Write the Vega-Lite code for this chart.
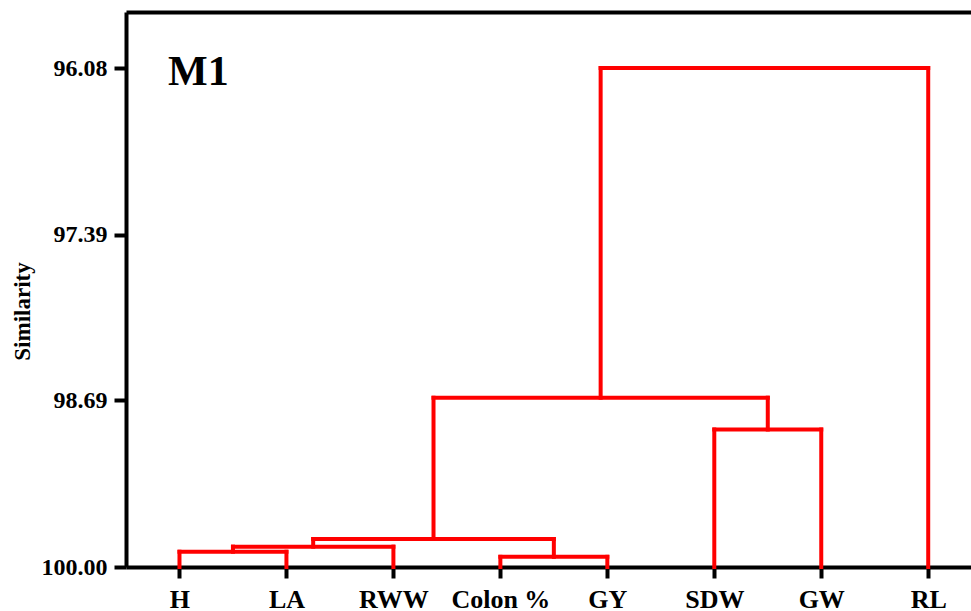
{
  "$schema": "https://vega.github.io/schema/vega-lite/v6.json",
  "autosize": {"type": "none"},
  "padding": {"left": 126, "top": 12, "right": 0, "bottom": 44},
  "width": 845,
  "height": 555,
  "background": "white",
  "config": {
    "view": {"stroke": null},
    "font": "Liberation Serif",
    "axis": {"grid": false, "domainColor": "black", "domainWidth": 4, "tickColor": "black", "tickWidth": 4, "labelColor": "black", "titleColor": "black", "labelFont": "Liberation Serif", "titleFont": "Liberation Serif", "labelFontWeight": "bold", "titleFontWeight": "bold"}
  },
  "datasets": {
    "segments": [
      {"x": 0, "x2": 0, "y": 100, "y2": 99.88},
      {"x": 1, "x2": 1, "y": 100, "y2": 99.88},
      {"x": 0, "x2": 1, "y": 99.88, "y2": 99.88},
      {"x": 0.5, "x2": 0.5, "y": 99.88, "y2": 99.84},
      {"x": 2, "x2": 2, "y": 100, "y2": 99.84},
      {"x": 0.5, "x2": 2, "y": 99.84, "y2": 99.84},
      {"x": 3, "x2": 3, "y": 100, "y2": 99.92},
      {"x": 4, "x2": 4, "y": 100, "y2": 99.92},
      {"x": 3, "x2": 4, "y": 99.92, "y2": 99.92},
      {"x": 1.25, "x2": 1.25, "y": 99.84, "y2": 99.78},
      {"x": 3.5, "x2": 3.5, "y": 99.92, "y2": 99.78},
      {"x": 1.25, "x2": 3.5, "y": 99.78, "y2": 99.78},
      {"x": 5, "x2": 5, "y": 100, "y2": 98.92},
      {"x": 6, "x2": 6, "y": 100, "y2": 98.92},
      {"x": 5, "x2": 6, "y": 98.92, "y2": 98.92},
      {"x": 2.375, "x2": 2.375, "y": 99.78, "y2": 98.67},
      {"x": 5.5, "x2": 5.5, "y": 98.92, "y2": 98.67},
      {"x": 2.375, "x2": 5.5, "y": 98.67, "y2": 98.67},
      {"x": 3.9375, "x2": 3.9375, "y": 98.67, "y2": 96.08},
      {"x": 7, "x2": 7, "y": 100, "y2": 96.08},
      {"x": 3.9375, "x2": 7, "y": 96.08, "y2": 96.08}
    ],
    "panel": [{"label": "M1", "x": -0.107, "y": 96.21}]
  },
  "layer": [
    {
      "data": {"name": "segments"},
      "mark": {"type": "rule", "color": "#ff0000", "strokeWidth": 4, "strokeCap": "square"},
      "encoding": {
        "x": {
          "field": "x", "type": "quantitative",
          "scale": {"domain": [-0.5, 7.4], "nice": false, "zero": false},
          "axis": {
            "orient": "bottom", "title": null, "values": [0, 1, 2, 3, 4, 5, 6, 7],
            "labelExpr": "['H','LA','RWW','Colon %','GY','SDW','GW','RL'][datum.value]",
            "labelFontSize": 26, "tickSize": 11, "labelPadding": 8, "labelFlush": false
          }
        },
        "x2": {"field": "x2"},
        "y": {
          "field": "y", "type": "quantitative",
          "scale": {"domain": [95.64, 100], "reverse": true, "nice": false, "zero": false},
          "axis": {
            "title": "Similarity", "values": [96.08, 97.39, 98.69, 100.0], "format": ".2f",
            "labelFontSize": 24, "tickSize": 12, "labelPadding": 7, "labelFlush": false,
            "titleFontSize": 23, "titleAngle": -90, "titleX": -104, "titleY": 299, "titleAlign": "center", "titleBaseline": "middle"
          }
        },
        "y2": {"field": "y2"}
      }
    },
    {
      "data": {"name": "panel"},
      "mark": {"type": "text", "align": "left", "baseline": "alphabetic", "fontSize": 42, "fontWeight": "bold", "font": "Liberation Serif", "color": "black"},
      "encoding": {
        "x": {"field": "x", "type": "quantitative", "axis": {"orient": "top", "title": null, "labels": false, "ticks": false, "domainWidth": 4}},
        "y": {"field": "y", "type": "quantitative"},
        "text": {"field": "label"}
      }
    }
  ],
  "resolve": {"axis": {"x": "independent"}}
}
